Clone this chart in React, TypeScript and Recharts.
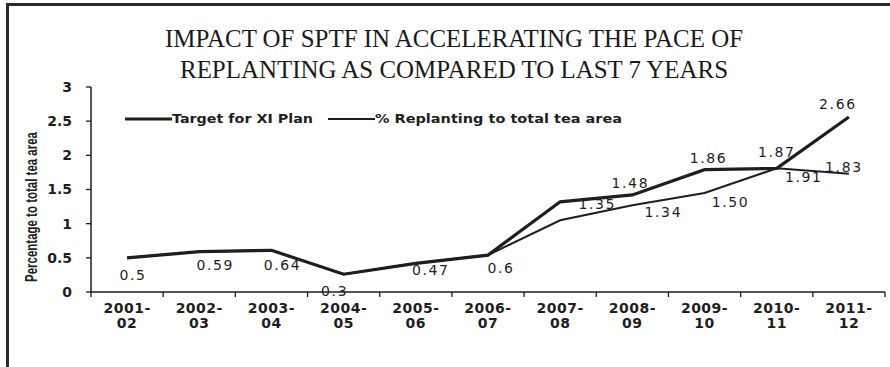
import React from "react";
import { LineChart, Line, XAxis, YAxis, Legend, LabelList } from "recharts";

const categories = ["2001-02", "2002-03", "2003-04", "2004-05", "2005-06", "2006-07", "2007-08", "2008-09", "2009-10", "2010-11", "2011-12"];
const targetXIPlan = [0.5, 0.59, 0.61, 0.26, 0.42, 0.54, 1.32, 1.42, 1.79, 1.81, 2.56];
const replantingPct = [0.5, 0.59, 0.61, 0.26, 0.42, 0.54, 1.05, 1.27, 1.45, 1.81, 1.73];
const targetLabels = ["", "", "", "", "", "", "1.35", "1.48", "1.86", "1.87", "2.66"];
const replantingLabels = ["0.5", "0.59", "0.64", "0.3", "0.47", "0.6", "", "1.34", "1.50", "1.91", "1.83"];
const yTicks = [0, 0.5, 1, 1.5, 2, 2.5, 3];
const seriesNames = ["Target for XI Plan", "% Replanting to total tea area"];
const titleLines = ["IMPACT OF SPTF IN ACCELERATING THE PACE OF", "REPLANTING AS COMPARED TO LAST 7 YEARS"];
const yAxisTitle = "Percentage to total tea area";

// label nudges (style only): [dx, dy] of label centre relative to its point
const targetNudge: Array<[number, number]> = [[0, 0], [0, 0], [0, 0], [0, 0], [0, 0], [0, 0], [37, 2], [-2, -12], [4, -12], [0, -16], [-11, -13]];
const replantingNudge: Array<[number, number]> = [[6, 17], [16, 13], [11, 15], [-9, 17], [15, 7], [13, 13], [0, 0], [31, 7], [26, 9], [27, 9], [-5, -7]];

const data = categories.map((c, i) => ({ cat: c, target: targetXIPlan[i], replanting: replantingPct[i] }));

const W = 890;
const H = 367;
const M = { top: 87, right: 5, bottom: 45, left: 31 };
const Y_W = 60;
const X_H = 30;
const plotW = W - M.left - Y_W - M.right;
const band = plotW / categories.length;
const INK = "#1e1e1e";

const makeLabel = (texts: string[], nudge: Array<[number, number]>) => (props: any) => {
  const { x, y, index } = props;
  const t = texts[index];
  if (!t) return null;
  const [dx, dy] = nudge[index];
  return (
    <text x={x + dx} y={y + dy + 5} textAnchor="middle" fontFamily="DejaVu Sans" fontSize={14} letterSpacing={1.6} fill={INK}>
      {t}
    </text>
  );
};

const XTick = (props: any) => {
  const { x, y, payload, index } = props;
  const parts = String(payload.value).split("-");
  return (
    <g>
      {index === 0 && <line x1={x - band / 2} x2={x - band / 2} y1={y} y2={y + 5} stroke={INK} strokeWidth={1.3} />}
      <line x1={x + band / 2} x2={x + band / 2} y1={y} y2={y + 5} stroke={INK} strokeWidth={1.3} />
      <text x={x} y={y + 21} textAnchor="middle" fontFamily="DejaVu Sans" fontWeight="bold" fontSize={14} letterSpacing={0.5} fill={INK}>
        {parts[0] + "-"}
      </text>
      <text x={x} y={y + 36} textAnchor="middle" fontFamily="DejaVu Sans" fontWeight="bold" fontSize={14} letterSpacing={0.5} fill={INK}>
        {parts[1]}
      </text>
    </g>
  );
};

const renderLegend = () => (
  <svg width={W} height={24} style={{ display: "block" }}>
    <line x1={125} x2={172} y1={12} y2={12} stroke={INK} strokeWidth={3.2} />
    <text x={172} y={16} fontFamily="DejaVu Sans" fontWeight="bold" fontSize={11.5} textLength={141} lengthAdjust="spacingAndGlyphs" fill={INK}>
      {seriesNames[0]}
    </text>
    <line x1={328} x2={375} y1={12} y2={12} stroke={INK} strokeWidth={2} />
    <text x={375} y={16} fontFamily="DejaVu Sans" fontWeight="bold" fontSize={11.5} textLength={247} lengthAdjust="spacingAndGlyphs" fill={INK}>
      {seriesNames[1]}
    </text>
  </svg>
);

const YTitle = () => (
  <text
    x={31}
    y={207}
    transform="rotate(-90 31 207)"
    textAnchor="middle"
    dominantBaseline="central"
    fontFamily="Liberation Sans"
    fontWeight="bold"
    fontSize={17}
    textLength={150}
    lengthAdjust="spacingAndGlyphs"
    fill={INK}
  >
    {yAxisTitle}
  </text>
);

export default function App() {
  return (
    <div style={{ position: "absolute", left: 0, top: 0, width: W, height: H, background: "#fff" }}>
      <LineChart width={W} height={H} data={data} margin={M}>
        <XAxis
          dataKey="cat"
          height={X_H}
          interval={0}
          padding={{ left: band / 2, right: band / 2 }}
          tickSize={0}
          tickMargin={0}
          tickLine={false}
          tick={<XTick />}
          axisLine={{ stroke: INK, strokeWidth: 1.5 }}
        />
        <YAxis
          width={Y_W}
          domain={[0, 3]}
          ticks={yTicks}
          tickSize={5}
          tickMargin={14}
          axisLine={{ stroke: INK, strokeWidth: 1.5 }}
          tickLine={{ stroke: INK, strokeWidth: 1.3 }}
          tick={{ fontFamily: "DejaVu Sans", fontWeight: "bold", fontSize: 14, fill: INK }}
          label={{ content: () => <YTitle /> }}
        />
        <Legend verticalAlign="middle" align="center" layout="horizontal" content={renderLegend} wrapperStyle={{ top: 107, left: 0, width: W }} />
        <Line type="linear" dataKey="replanting" name={seriesNames[1]} stroke={INK} strokeWidth={2} dot={false} isAnimationActive={false}>
          <LabelList dataKey="replanting" content={makeLabel(replantingLabels, replantingNudge)} />
        </Line>
        <Line type="linear" dataKey="target" name={seriesNames[0]} stroke={INK} strokeWidth={3.2} dot={false} isAnimationActive={false}>
          <LabelList dataKey="target" content={makeLabel(targetLabels, targetNudge)} />
        </Line>
      </LineChart>
      <svg width={W} height={H} style={{ position: "absolute", left: 0, top: 0, pointerEvents: "none" }}>
        <rect x={6} y={3} width={W - 6} height={3} fill="#2a2a2a" />
        <rect x={6} y={3} width={3} height={H - 3} fill="#2a2a2a" />
        <text x={165} y={47} fontFamily="Liberation Serif" fontSize={26} textLength={578} lengthAdjust="spacingAndGlyphs" fill="#1a1a1a">
          {titleLines[0]}
        </text>
        <text x={180} y={78} fontFamily="Liberation Serif" fontSize={26} textLength={548} lengthAdjust="spacingAndGlyphs" fill="#1a1a1a">
          {titleLines[1]}
        </text>
      </svg>
    </div>
  );
}
